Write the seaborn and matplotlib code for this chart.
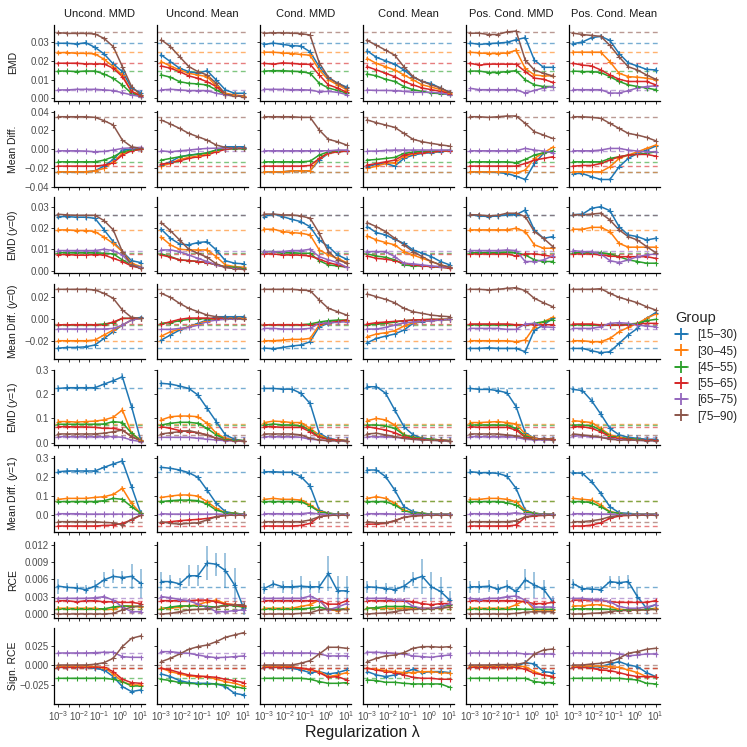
import numpy as np
import pandas as pd
import matplotlib
matplotlib.use("Agg")
import matplotlib.pyplot as plt
import seaborn as sns
from matplotlib.lines import Line2D

sns.set_theme(style="ticks")
plt.rcParams["font.family"] = ["Liberation Sans", "DejaVu Sans"]
plt.rcParams["mathtext.fontset"] = "custom"
plt.rcParams["mathtext.rm"] = "Liberation Sans"
plt.rcParams["mathtext.it"] = "Liberation Sans:italic"

# ---------------- data ----------------
LAMBDAS = [0.001, 0.00278, 0.00774, 0.0215, 0.0599, 0.167, 0.464, 1.29, 3.59, 10.0]
GROUPS = ["[15–30)", "[30–45)", "[45–55)", "[55–65)", "[65–75)", "[75–90)"]
COLORS = ["#1f77b4", "#ff7f0e", "#2ca02c", "#d62728", "#9467bd", "#8c564b"]
METHODS = ["Uncond. MMD", "Uncond. Mean", "Cond. MMD", "Cond. Mean", "Pos. Cond. MMD", "Pos. Cond. Mean"]
ROW_LABELS = ["EMD", "Mean Diff.", "EMD ($y$=0)", "Mean Diff. ($y$=0)",
              "EMD ($y$=1)", "Mean Diff. ($y$=1)", "RCE", "Sign. RCE"]

# --- Row 1: EMD ---
ref_emd = [0.0297, 0.0247, 0.0147, 0.0189, 0.0045, 0.0353]
err_emd = [0.0012, 0.0010, 0.0008, 0.0007, 0.0004, 0.0006]
emd_umm = [[0.0295,0.0295,0.0291,0.0298,0.0273,0.0238,0.0184,0.0143,0.0054,0.0030],
           [0.0245,0.0245,0.0241,0.0241,0.0238,0.0209,0.0170,0.0125,0.0036,0.0018],
           [0.0146,0.0146,0.0143,0.0146,0.0146,0.0130,0.0107,0.0071,0.0027,0.0009],
           [0.0188,0.0188,0.0188,0.0184,0.0184,0.0184,0.0161,0.0116,0.0036,0.0013],
           [0.0045,0.0045,0.0048,0.0048,0.0048,0.0045,0.0041,0.0030,0.0018,0.0009],
           [0.0352,0.0348,0.0348,0.0348,0.0345,0.0321,0.0277,0.0170,0.0063,0.0018]]
emd_umn = [[0.0232,0.0196,0.0161,0.0143,0.0134,0.0148,0.0098,0.0045,0.0027,0.0027],
           [0.0196,0.0173,0.0152,0.0134,0.0125,0.0116,0.0066,0.0027,0.0018,0.0013],
           [0.0125,0.0113,0.0089,0.0080,0.0077,0.0071,0.0045,0.0018,0.0013,0.0009],
           [0.0173,0.0161,0.0143,0.0120,0.0107,0.0089,0.0063,0.0018,0.0013,0.0009],
           [0.0045,0.0048,0.0045,0.0041,0.0041,0.0041,0.0027,0.0018,0.0013,0.0009],
           [0.0313,0.0277,0.0223,0.0170,0.0143,0.0125,0.0080,0.0023,0.0013,0.0009]]
emd_cmm = [[0.0289,0.0296,0.0289,0.0282,0.0280,0.0249,0.0169,0.0108,0.0081,0.0060],
           [0.0247,0.0247,0.0243,0.0240,0.0235,0.0231,0.0152,0.0099,0.0072,0.0046],
           [0.0146,0.0148,0.0148,0.0145,0.0143,0.0134,0.0081,0.0055,0.0042,0.0028],
           [0.0187,0.0183,0.0190,0.0187,0.0183,0.0182,0.0125,0.0072,0.0055,0.0032],
           [0.0048,0.0048,0.0048,0.0046,0.0046,0.0044,0.0035,0.0037,0.0032,0.0020],
           [0.0349,0.0351,0.0351,0.0349,0.0347,0.0339,0.0190,0.0113,0.0080,0.0055]]
emd_cmn = [[0.0254,0.0219,0.0201,0.0183,0.0152,0.0113,0.0090,0.0078,0.0055,0.0032],
           [0.0213,0.0187,0.0169,0.0152,0.0125,0.0099,0.0072,0.0060,0.0046,0.0028],
           [0.0130,0.0120,0.0102,0.0090,0.0063,0.0046,0.0037,0.0028,0.0025,0.0019],
           [0.0169,0.0152,0.0134,0.0116,0.0090,0.0072,0.0055,0.0046,0.0037,0.0025],
           [0.0044,0.0042,0.0042,0.0041,0.0037,0.0032,0.0032,0.0032,0.0028,0.0019],
           [0.0310,0.0284,0.0258,0.0231,0.0169,0.0116,0.0090,0.0072,0.0055,0.0032]]
emd_pmm = [[0.0296,0.0289,0.0293,0.0296,0.0300,0.0314,0.0325,0.0205,0.0166,0.0166],
           [0.0247,0.0243,0.0240,0.0240,0.0243,0.0257,0.0160,0.0125,0.0120,0.0120],
           [0.0146,0.0146,0.0138,0.0138,0.0143,0.0148,0.0099,0.0072,0.0063,0.0063],
           [0.0187,0.0178,0.0183,0.0183,0.0183,0.0183,0.0143,0.0108,0.0102,0.0085],
           [0.0053,0.0046,0.0046,0.0046,0.0046,0.0046,0.0028,0.0042,0.0055,0.0063],
           [0.0349,0.0349,0.0342,0.0342,0.0356,0.0360,0.0205,0.0152,0.0134,0.0120]]
emd_pmn = [[0.0293,0.0302,0.0325,0.0332,0.0310,0.0240,0.0190,0.0173,0.0155,0.0152],
           [0.0247,0.0247,0.0247,0.0247,0.0196,0.0134,0.0116,0.0113,0.0108,0.0099],
           [0.0146,0.0143,0.0143,0.0138,0.0116,0.0090,0.0072,0.0063,0.0055,0.0046],
           [0.0187,0.0178,0.0173,0.0152,0.0125,0.0102,0.0090,0.0090,0.0090,0.0072],
           [0.0046,0.0046,0.0046,0.0046,0.0028,0.0028,0.0041,0.0055,0.0063,0.0067],
           [0.0349,0.0342,0.0337,0.0332,0.0284,0.0222,0.0169,0.0152,0.0125,0.0102]]

# --- Row 2: Mean Diff. ---
ref_md = [-0.0245, -0.0243, -0.0140, -0.0185, -0.0018, 0.0348]
err_md = [0.0012, 0.0010, 0.0008, 0.0007, 0.0004, 0.0006]
md_umm = [[-0.0243,-0.0243,-0.0243,-0.0243,-0.0232,-0.0182,-0.0111,-0.0010,0.0000,0.0007],
          [-0.0243,-0.0243,-0.0243,-0.0243,-0.0232,-0.0207,-0.0136,-0.0046,-0.0010,0.0000],
          [-0.0136,-0.0136,-0.0136,-0.0136,-0.0136,-0.0118,-0.0082,-0.0029,-0.0010,-0.0004],
          [-0.0182,-0.0182,-0.0182,-0.0182,-0.0182,-0.0171,-0.0146,-0.0064,-0.0018,-0.0004],
          [-0.0018,-0.0018,-0.0018,-0.0021,-0.0029,-0.0025,-0.0010,0.0007,0.0014,0.0018],
          [0.0346,0.0346,0.0346,0.0346,0.0339,0.0304,0.0257,0.0096,0.0025,0.0007]]
md_umn = [[-0.0171,-0.0136,-0.0082,-0.0064,-0.0054,-0.0046,-0.0010,0.0025,0.0025,0.0025],
          [-0.0182,-0.0154,-0.0111,-0.0089,-0.0075,-0.0054,-0.0018,0.0007,0.0014,0.0014],
          [-0.0118,-0.0100,-0.0082,-0.0068,-0.0054,-0.0039,-0.0010,0.0000,0.0004,0.0004],
          [-0.0161,-0.0146,-0.0125,-0.0100,-0.0082,-0.0064,-0.0029,-0.0004,0.0007,0.0007],
          [-0.0018,-0.0029,-0.0018,-0.0010,0.0000,0.0007,0.0010,0.0010,0.0010,0.0010],
          [0.0310,0.0268,0.0221,0.0168,0.0132,0.0096,0.0043,0.0018,0.0007,0.0007]]
md_cmm = [[-0.0243,-0.0243,-0.0243,-0.0232,-0.0232,-0.0232,-0.0118,-0.0046,-0.0029,-0.0021],
          [-0.0243,-0.0243,-0.0243,-0.0232,-0.0232,-0.0232,-0.0100,-0.0046,-0.0029,-0.0021],
          [-0.0136,-0.0136,-0.0136,-0.0136,-0.0136,-0.0129,-0.0064,-0.0029,-0.0021,-0.0018],
          [-0.0182,-0.0182,-0.0182,-0.0182,-0.0182,-0.0175,-0.0100,-0.0039,-0.0029,-0.0021],
          [-0.0018,-0.0018,-0.0018,-0.0018,-0.0018,-0.0018,-0.0018,-0.0018,-0.0010,-0.0010],
          [0.0346,0.0346,0.0346,0.0346,0.0339,0.0339,0.0204,0.0104,0.0079,0.0043]]
md_cmn = [[-0.0189,-0.0161,-0.0154,-0.0182,-0.0100,-0.0064,-0.0046,-0.0039,-0.0029,-0.0018],
          [-0.0207,-0.0182,-0.0154,-0.0146,-0.0082,-0.0054,-0.0039,-0.0032,-0.0025,-0.0018],
          [-0.0118,-0.0111,-0.0100,-0.0089,-0.0046,-0.0032,-0.0025,-0.0021,-0.0018,-0.0014],
          [-0.0171,-0.0154,-0.0136,-0.0118,-0.0064,-0.0046,-0.0039,-0.0029,-0.0021,-0.0018],
          [-0.0021,-0.0021,-0.0014,-0.0010,-0.0010,-0.0010,-0.0010,-0.0010,-0.0010,-0.0010],
          [0.0311,0.0282,0.0257,0.0232,0.0168,0.0104,0.0079,0.0061,0.0046,0.0032]]
md_pmm = [[-0.0243,-0.0243,-0.0243,-0.0250,-0.0261,-0.0289,-0.0325,-0.0154,-0.0046,-0.0021],
          [-0.0243,-0.0243,-0.0243,-0.0243,-0.0243,-0.0254,-0.0225,-0.0100,-0.0039,0.0018],
          [-0.0136,-0.0136,-0.0136,-0.0136,-0.0136,-0.0146,-0.0111,-0.0064,-0.0039,-0.0021],
          [-0.0182,-0.0182,-0.0182,-0.0182,-0.0182,-0.0182,-0.0154,-0.0118,-0.0100,-0.0082],
          [-0.0018,-0.0018,-0.0018,-0.0018,-0.0018,-0.0018,0.0007,-0.0010,-0.0021,-0.0039],
          [0.0346,0.0346,0.0339,0.0346,0.0354,0.0354,0.0275,0.0186,0.0150,0.0114]]
md_pmn = [[-0.0261,-0.0261,-0.0296,-0.0325,-0.0325,-0.0189,-0.0100,-0.0046,-0.0010,0.0032],
          [-0.0243,-0.0243,-0.0243,-0.0243,-0.0189,-0.0100,-0.0064,-0.0029,0.0007,0.0043],
          [-0.0136,-0.0136,-0.0136,-0.0136,-0.0100,-0.0082,-0.0064,-0.0054,-0.0046,-0.0029],
          [-0.0182,-0.0175,-0.0175,-0.0154,-0.0118,-0.0082,-0.0064,-0.0057,-0.0057,-0.0075],
          [-0.0018,-0.0018,-0.0018,-0.0010,0.0007,0.0007,-0.0010,-0.0021,-0.0029,-0.0029],
          [0.0346,0.0346,0.0339,0.0329,0.0275,0.0221,0.0168,0.0150,0.0125,0.0089]]

# --- Row 3: EMD (y=0) ---
ref_emd0 = [0.0263, 0.0193, 0.0082, 0.0078, 0.0095, 0.0265]
err_emd0 = [0.0013, 0.0010, 0.0006, 0.0006, 0.0006, 0.0008]
emd0_umm = [[0.0256,0.0256,0.0253,0.0253,0.0248,0.0193,0.0137,0.0090,0.0047,0.0038],
            [0.0193,0.0193,0.0190,0.0190,0.0185,0.0158,0.0129,0.0090,0.0035,0.0019],
            [0.0085,0.0085,0.0085,0.0085,0.0085,0.0082,0.0079,0.0051,0.0027,0.0016],
            [0.0076,0.0076,0.0073,0.0073,0.0076,0.0074,0.0058,0.0043,0.0022,0.0011],
            [0.0095,0.0095,0.0095,0.0095,0.0095,0.0101,0.0095,0.0074,0.0027,0.0016],
            [0.0267,0.0264,0.0262,0.0262,0.0262,0.0237,0.0193,0.0090,0.0027,0.0011]]
emd0_umn = [[0.0196,0.0153,0.0126,0.0122,0.0133,0.0137,0.0098,0.0047,0.0035,0.0032],
            [0.0158,0.0122,0.0101,0.0098,0.0098,0.0098,0.0066,0.0027,0.0019,0.0016],
            [0.0079,0.0066,0.0051,0.0047,0.0043,0.0038,0.0027,0.0019,0.0016,0.0013],
            [0.0074,0.0063,0.0051,0.0047,0.0043,0.0038,0.0027,0.0016,0.0011,0.0009],
            [0.0098,0.0098,0.0090,0.0074,0.0058,0.0043,0.0027,0.0016,0.0011,0.0009],
            [0.0227,0.0189,0.0145,0.0101,0.0082,0.0063,0.0032,0.0016,0.0009,0.0006]]
emd0_cmm = [[0.0256,0.0268,0.0256,0.0243,0.0232,0.0208,0.0145,0.0114,0.0074,0.0054],
            [0.0196,0.0196,0.0185,0.0180,0.0177,0.0169,0.0098,0.0074,0.0058,0.0038],
            [0.0090,0.0090,0.0085,0.0085,0.0082,0.0082,0.0047,0.0027,0.0022,0.0016],
            [0.0079,0.0079,0.0074,0.0074,0.0073,0.0069,0.0054,0.0038,0.0027,0.0016],
            [0.0090,0.0090,0.0090,0.0095,0.0095,0.0101,0.0066,0.0051,0.0038,0.0016],
            [0.0268,0.0268,0.0264,0.0264,0.0259,0.0248,0.0177,0.0090,0.0051,0.0035]]
emd0_cmn = [[0.0208,0.0180,0.0169,0.0148,0.0129,0.0098,0.0082,0.0066,0.0043,0.0027],
            [0.0164,0.0145,0.0133,0.0122,0.0090,0.0074,0.0058,0.0043,0.0027,0.0016],
            [0.0079,0.0069,0.0063,0.0051,0.0027,0.0022,0.0022,0.0019,0.0016,0.0013],
            [0.0069,0.0058,0.0054,0.0047,0.0035,0.0027,0.0022,0.0019,0.0016,0.0011],
            [0.0090,0.0090,0.0090,0.0066,0.0035,0.0032,0.0027,0.0022,0.0019,0.0016],
            [0.0227,0.0208,0.0185,0.0153,0.0122,0.0090,0.0066,0.0043,0.0027,0.0016]]
emd0_pmm = [[0.0265,0.0259,0.0256,0.0259,0.0265,0.0265,0.0287,0.0193,0.0153,0.0161],
            [0.0193,0.0193,0.0193,0.0193,0.0193,0.0201,0.0185,0.0122,0.0106,0.0106],
            [0.0085,0.0085,0.0085,0.0085,0.0088,0.0085,0.0074,0.0051,0.0043,0.0043],
            [0.0079,0.0079,0.0079,0.0079,0.0079,0.0069,0.0079,0.0079,0.0074,0.0066],
            [0.0095,0.0095,0.0095,0.0095,0.0098,0.0095,0.0043,0.0043,0.0051,0.0069],
            [0.0265,0.0264,0.0259,0.0262,0.0272,0.0272,0.0256,0.0185,0.0153,0.0114]]
emd0_pmn = [[0.0265,0.0268,0.0295,0.0303,0.0284,0.0208,0.0169,0.0161,0.0145,0.0153],
            [0.0196,0.0196,0.0205,0.0205,0.0185,0.0129,0.0111,0.0111,0.0111,0.0111],
            [0.0085,0.0085,0.0085,0.0085,0.0079,0.0066,0.0051,0.0043,0.0035,0.0035],
            [0.0079,0.0079,0.0079,0.0074,0.0069,0.0066,0.0066,0.0066,0.0066,0.0058],
            [0.0095,0.0090,0.0090,0.0079,0.0047,0.0038,0.0051,0.0066,0.0074,0.0079],
            [0.0265,0.0265,0.0268,0.0272,0.0240,0.0193,0.0161,0.0145,0.0114,0.0085]]

# --- Row 4: Mean Diff. (y=0) ---
ref_md0 = [-0.0267, -0.0198, -0.0055, -0.0050, -0.0094, 0.0267]
err_md0 = [0.0013, 0.0010, 0.0006, 0.0006, 0.0006, 0.0008]
md0_umm = [[-0.0267,-0.0261,-0.0261,-0.0255,-0.0239,-0.0179,-0.0118,-0.0058,-0.0012,0.0012],
           [-0.0200,-0.0200,-0.0200,-0.0200,-0.0194,-0.0148,-0.0103,-0.0058,-0.0012,0.0003],
           [-0.0055,-0.0055,-0.0055,-0.0055,-0.0055,-0.0048,-0.0036,0.0003,0.0003,0.0003],
           [-0.0055,-0.0055,-0.0055,-0.0055,-0.0055,-0.0055,-0.0030,0.0003,0.0003,0.0003],
           [-0.0094,-0.0094,-0.0094,-0.0094,-0.0094,-0.0094,-0.0088,-0.0058,-0.0012,0.0003],
           [0.0267,0.0267,0.0267,0.0267,0.0261,0.0230,0.0185,0.0079,0.0012,0.0003]]
md0_umn = [[-0.0194,-0.0148,-0.0103,-0.0073,-0.0042,-0.0012,0.0018,0.0018,0.0018,0.0018],
           [-0.0158,-0.0118,-0.0097,-0.0073,-0.0048,-0.0018,0.0000,0.0003,0.0006,0.0006],
           [-0.0042,-0.0036,-0.0018,-0.0006,0.0000,0.0000,0.0000,0.0000,0.0000,0.0000],
           [-0.0048,-0.0027,-0.0006,0.0006,0.0006,0.0006,0.0000,0.0000,0.0000,0.0000],
           [-0.0097,-0.0097,-0.0088,-0.0079,-0.0058,-0.0027,-0.0012,-0.0006,-0.0003,0.0000],
           [0.0230,0.0194,0.0139,0.0094,0.0064,0.0033,0.0018,0.0006,0.0003,0.0000]]
md0_cmm = [[-0.0267,-0.0273,-0.0261,-0.0248,-0.0239,-0.0209,-0.0073,-0.0042,-0.0027,-0.0018],
           [-0.0200,-0.0200,-0.0194,-0.0188,-0.0188,-0.0179,-0.0058,-0.0036,-0.0027,-0.0018],
           [-0.0055,-0.0055,-0.0055,-0.0055,-0.0055,-0.0048,-0.0030,-0.0018,-0.0012,-0.0012],
           [-0.0055,-0.0055,-0.0055,-0.0055,-0.0055,-0.0055,-0.0048,-0.0036,-0.0024,-0.0012],
           [-0.0088,-0.0088,-0.0094,-0.0094,-0.0094,-0.0088,-0.0042,-0.0036,-0.0033,-0.0027],
           [0.0267,0.0267,0.0267,0.0267,0.0261,0.0255,0.0170,0.0094,0.0064,0.0033]]
md0_cmn = [[-0.0218,-0.0179,-0.0158,-0.0139,-0.0103,-0.0042,-0.0027,-0.0018,-0.0012,-0.0006],
           [-0.0164,-0.0139,-0.0127,-0.0109,-0.0067,-0.0036,-0.0024,-0.0018,-0.0012,-0.0006],
           [-0.0055,-0.0048,-0.0042,-0.0030,-0.0018,-0.0012,-0.0009,-0.0006,-0.0006,-0.0006],
           [-0.0048,-0.0036,-0.0030,-0.0024,-0.0018,-0.0012,-0.0009,-0.0006,-0.0006,-0.0006],
           [-0.0094,-0.0094,-0.0079,-0.0058,-0.0036,-0.0030,-0.0024,-0.0018,-0.0012,-0.0006],
           [0.0224,0.0200,0.0176,0.0145,0.0094,0.0064,0.0048,0.0033,0.0024,0.0018]]
md0_pmm = [[-0.0270,-0.0270,-0.0264,-0.0270,-0.0270,-0.0270,-0.0300,-0.0103,-0.0058,0.0003],
           [-0.0200,-0.0200,-0.0200,-0.0200,-0.0200,-0.0209,-0.0194,-0.0073,-0.0027,0.0012],
           [-0.0055,-0.0055,-0.0055,-0.0055,-0.0055,-0.0058,-0.0058,-0.0042,-0.0027,-0.0012],
           [-0.0048,-0.0048,-0.0048,-0.0048,-0.0048,-0.0055,-0.0055,-0.0055,-0.0055,-0.0055],
           [-0.0088,-0.0088,-0.0088,-0.0088,-0.0097,-0.0097,-0.0048,-0.0042,-0.0073,-0.0079],
           [0.0267,0.0267,0.0261,0.0267,0.0276,0.0282,0.0255,0.0185,0.0145,0.0109]]
md0_pmn = [[-0.0270,-0.0270,-0.0291,-0.0309,-0.0300,-0.0224,-0.0148,-0.0088,0.0003,0.0055],
           [-0.0200,-0.0200,-0.0209,-0.0209,-0.0179,-0.0118,-0.0079,-0.0042,0.0003,0.0042],
           [-0.0055,-0.0055,-0.0058,-0.0058,-0.0058,-0.0058,-0.0048,-0.0042,-0.0018,-0.0006],
           [-0.0048,-0.0048,-0.0048,-0.0058,-0.0058,-0.0058,-0.0058,-0.0048,-0.0042,-0.0042],
           [-0.0088,-0.0088,-0.0088,-0.0073,-0.0042,-0.0036,-0.0042,-0.0058,-0.0067,-0.0073],
           [0.0267,0.0267,0.0267,0.0273,0.0230,0.0194,0.0170,0.0145,0.0109,0.0079]]

# --- Row 5: EMD (y=1) ---
ref_emd1 = [0.225, 0.075, 0.072, 0.063, 0.022, 0.032]
err_emd1 = [0.014, 0.010, 0.006, 0.004, 0.003, 0.004]
emd1_umm = [[0.224,0.227,0.227,0.227,0.227,0.242,0.256,0.272,0.149,0.011],
            [0.087,0.087,0.085,0.087,0.089,0.094,0.105,0.135,0.039,0.011],
            [0.076,0.076,0.076,0.076,0.076,0.077,0.087,0.083,0.039,0.008],
            [0.066,0.066,0.065,0.065,0.063,0.059,0.059,0.052,0.025,0.008],
            [0.025,0.025,0.025,0.025,0.025,0.025,0.025,0.022,0.011,0.004],
            [0.036,0.036,0.036,0.036,0.036,0.039,0.045,0.052,0.025,0.008]]
emd1_umn = [[0.245,0.242,0.234,0.224,0.197,0.142,0.087,0.032,0.014,0.008],
            [0.094,0.107,0.110,0.110,0.107,0.080,0.039,0.018,0.011,0.008],
            [0.073,0.080,0.084,0.084,0.080,0.059,0.032,0.014,0.011,0.008],
            [0.066,0.059,0.050,0.045,0.041,0.032,0.018,0.011,0.008,0.007],
            [0.022,0.022,0.022,0.022,0.018,0.014,0.011,0.008,0.008,0.007],
            [0.036,0.041,0.045,0.050,0.041,0.032,0.018,0.011,0.008,0.007]]
emd1_cmm = [[0.224,0.224,0.221,0.221,0.204,0.162,0.039,0.018,0.011,0.008],
            [0.083,0.089,0.087,0.083,0.083,0.059,0.032,0.014,0.011,0.008],
            [0.073,0.077,0.073,0.073,0.069,0.052,0.025,0.014,0.011,0.008],
            [0.066,0.066,0.063,0.063,0.063,0.045,0.022,0.014,0.011,0.008],
            [0.025,0.025,0.025,0.025,0.022,0.014,0.011,0.008,0.008,0.007],
            [0.036,0.036,0.036,0.036,0.032,0.018,0.011,0.008,0.008,0.007]]
emd1_cmn = [[0.231,0.231,0.204,0.135,0.066,0.032,0.018,0.014,0.011,0.008],
            [0.091,0.100,0.094,0.073,0.032,0.022,0.017,0.014,0.011,0.008],
            [0.073,0.073,0.069,0.059,0.032,0.022,0.017,0.014,0.011,0.008],
            [0.066,0.059,0.052,0.041,0.025,0.018,0.014,0.011,0.010,0.008],
            [0.025,0.025,0.025,0.022,0.018,0.014,0.011,0.010,0.008,0.007],
            [0.036,0.039,0.032,0.025,0.018,0.014,0.011,0.010,0.008,0.007]]
emd1_pmm = [[0.224,0.220,0.220,0.215,0.206,0.149,0.041,0.018,0.014,0.014],
            [0.083,0.083,0.085,0.087,0.083,0.077,0.036,0.018,0.014,0.014],
            [0.073,0.073,0.073,0.073,0.072,0.059,0.028,0.017,0.014,0.014],
            [0.066,0.063,0.063,0.063,0.063,0.052,0.022,0.017,0.014,0.014],
            [0.025,0.025,0.025,0.025,0.025,0.022,0.014,0.011,0.011,0.011],
            [0.036,0.036,0.036,0.036,0.032,0.028,0.018,0.014,0.014,0.011]]
emd1_pmn = [[0.220,0.215,0.173,0.118,0.059,0.032,0.022,0.018,0.014,0.014],
            [0.091,0.087,0.083,0.059,0.032,0.022,0.017,0.014,0.011,0.011],
            [0.073,0.073,0.069,0.052,0.028,0.021,0.017,0.014,0.011,0.011],
            [0.066,0.066,0.059,0.045,0.025,0.018,0.014,0.011,0.011,0.011],
            [0.028,0.028,0.025,0.022,0.017,0.014,0.011,0.010,0.008,0.008],
            [0.036,0.032,0.028,0.022,0.014,0.011,0.011,0.010,0.008,0.008]]

# --- Row 6: Mean Diff. (y=1) ---
ref_md1 = [0.228, 0.075, 0.072, -0.060, 0.007, -0.035]
err_md1 = [0.014, 0.010, 0.006, 0.004, 0.003, 0.004]
md1_umm = [[0.229,0.233,0.233,0.233,0.233,0.252,0.270,0.286,0.150,0.012],
           [0.083,0.088,0.088,0.088,0.093,0.097,0.109,0.141,0.062,0.009],
           [0.071,0.071,0.071,0.071,0.071,0.076,0.088,0.083,0.044,0.009],
           [-0.058,-0.058,-0.058,-0.058,-0.058,-0.055,-0.053,-0.044,-0.026,-0.002],
           [0.007,0.007,0.007,0.005,0.005,0.005,0.005,0.005,0.005,0.004],
           [-0.035,-0.035,-0.035,-0.035,-0.035,-0.039,-0.041,-0.053,-0.023,0.000]]
md1_umn = [[0.252,0.247,0.238,0.224,0.199,0.132,0.062,0.018,0.009,0.005],
           [0.093,0.100,0.106,0.106,0.100,0.071,0.035,0.012,0.009,0.005],
           [0.071,0.076,0.079,0.079,0.076,0.058,0.026,0.012,0.009,0.005],
           [-0.041,-0.035,-0.030,-0.026,-0.023,-0.018,-0.009,-0.002,0.000,0.000],
           [0.007,0.005,0.005,0.005,0.005,0.005,0.005,0.004,0.004,0.004],
           [-0.035,-0.044,-0.048,-0.044,-0.041,-0.026,-0.009,-0.002,0.000,0.000]]
md1_cmm = [[0.229,0.229,0.226,0.226,0.203,0.153,0.026,0.009,0.005,0.004],
           [0.083,0.088,0.083,0.083,0.079,0.053,0.023,0.009,0.005,0.004],
           [0.071,0.071,0.071,0.071,0.071,0.048,0.018,0.009,0.005,0.004],
           [-0.058,-0.058,-0.058,-0.058,-0.055,-0.044,-0.009,-0.002,0.000,0.000],
           [0.007,0.007,0.007,0.007,0.007,0.012,0.005,0.005,0.004,0.004],
           [-0.035,-0.035,-0.035,-0.035,-0.035,-0.026,-0.009,-0.002,0.000,0.000]]
md1_cmn = [[0.238,0.238,0.203,0.132,0.044,0.018,0.009,0.005,0.004,0.004],
           [0.088,0.097,0.088,0.062,0.026,0.012,0.009,0.005,0.004,0.004],
           [0.071,0.071,0.071,0.053,0.023,0.012,0.009,0.005,0.004,0.004],
           [-0.048,-0.048,-0.044,-0.030,-0.012,-0.005,-0.002,0.000,0.000,0.000],
           [0.007,0.007,0.007,0.005,0.005,0.005,0.004,0.004,0.004,0.004],
           [-0.035,-0.041,-0.041,-0.030,-0.012,-0.005,-0.002,0.000,0.000,0.000]]
md1_pmm = [[0.229,0.224,0.224,0.220,0.206,0.141,0.026,0.009,0.005,0.004],
           [0.083,0.083,0.088,0.088,0.083,0.071,0.023,0.009,0.005,0.004],
           [0.071,0.071,0.071,0.071,0.065,0.053,0.018,0.009,0.005,0.004],
           [-0.058,-0.058,-0.058,-0.058,-0.058,-0.053,-0.012,-0.005,-0.002,0.000],
           [0.007,0.007,0.007,0.007,0.007,0.012,0.005,0.005,0.004,0.004],
           [-0.035,-0.035,-0.035,-0.035,-0.035,-0.030,-0.009,-0.002,0.000,0.000]]
md1_pmn = [[0.224,0.220,0.176,0.115,0.044,0.012,0.009,0.005,0.004,0.004],
           [0.088,0.083,0.079,0.053,0.018,0.009,0.005,0.004,0.004,0.004],
           [0.071,0.071,0.065,0.044,0.016,0.009,0.005,0.004,0.004,0.004],
           [-0.058,-0.058,-0.053,-0.041,-0.018,-0.005,-0.002,0.000,0.000,0.000],
           [0.007,0.007,0.007,0.005,0.005,0.005,0.004,0.004,0.004,0.004],
           [-0.035,-0.035,-0.030,-0.023,-0.009,-0.002,0.000,0.000,0.000,0.000]]

# --- Row 7: RCE ---
ref_rce = [0.0046, 0.0009, 0.0008, 0.0022, 0.0027, 0.0001]
err_rce = [0.0012, 0.0003, 0.0002, 0.0003, 0.0003, 0.0002]
rce_umm = [[0.0048,0.0046,0.0045,0.0042,0.0048,0.0059,0.0065,0.0063,0.0065,0.0053],
           [0.0010,0.0010,0.0010,0.0010,0.0010,0.0008,0.0008,0.0014,0.0014,0.0012],
           [0.0009,0.0009,0.0009,0.0009,0.0009,0.0009,0.0012,0.0014,0.0013,0.0013],
           [0.0023,0.0023,0.0021,0.0023,0.0023,0.0021,0.0021,0.0020,0.0020,0.0018],
           [0.0027,0.0027,0.0027,0.0027,0.0028,0.0030,0.0024,0.0012,0.0004,0.0004],
           [0.0000,0.0000,0.0000,0.0000,0.0000,0.0000,0.0001,0.0007,0.0012,0.0014]]
rce_umn = [[0.0056,0.0056,0.0052,0.0066,0.0066,0.0088,0.0086,0.0075,0.0050,0.0010],
           [0.0010,0.0010,0.0012,0.0014,0.0016,0.0021,0.0024,0.0018,0.0016,0.0013],
           [0.0009,0.0012,0.0014,0.0014,0.0014,0.0013,0.0012,0.0016,0.0014,0.0012],
           [0.0023,0.0023,0.0023,0.0023,0.0024,0.0024,0.0021,0.0017,0.0016,0.0013],
           [0.0030,0.0028,0.0025,0.0023,0.0017,0.0012,0.0004,0.0004,0.0006,0.0007],
           [0.0000,0.0001,0.0004,0.0007,0.0008,0.0009,0.0012,0.0014,0.0016,0.0016]]
rce_cmm = [[0.0044,0.0052,0.0047,0.0047,0.0048,0.0047,0.0047,0.0070,0.0040,0.0040],
           [0.0010,0.0010,0.0010,0.0010,0.0013,0.0016,0.0024,0.0007,0.0006,0.0010],
           [0.0009,0.0009,0.0009,0.0009,0.0009,0.0010,0.0012,0.0008,0.0008,0.0009],
           [0.0023,0.0023,0.0023,0.0023,0.0023,0.0023,0.0023,0.0017,0.0017,0.0023],
           [0.0027,0.0027,0.0027,0.0027,0.0027,0.0031,0.0024,0.0007,0.0012,0.0018],
           [0.0000,0.0000,0.0000,0.0000,0.0001,0.0002,0.0007,0.0008,0.0007,0.0008]]
rce_cmn = [[0.0047,0.0046,0.0044,0.0042,0.0048,0.0060,0.0065,0.0047,0.0039,0.0024],
           [0.0010,0.0010,0.0010,0.0010,0.0010,0.0010,0.0010,0.0010,0.0010,0.0012],
           [0.0010,0.0011,0.0013,0.0013,0.0013,0.0012,0.0009,0.0009,0.0012,0.0016],
           [0.0023,0.0023,0.0023,0.0023,0.0023,0.0021,0.0018,0.0016,0.0018,0.0018],
           [0.0027,0.0027,0.0027,0.0024,0.0024,0.0013,0.0010,0.0010,0.0012,0.0018],
           [0.0000,0.0001,0.0002,0.0004,0.0007,0.0008,0.0009,0.0009,0.0010,0.0012]]
rce_pmm = [[0.0047,0.0047,0.0048,0.0043,0.0048,0.0039,0.0059,0.0050,0.0043,0.0021],
           [0.0010,0.0010,0.0010,0.0010,0.0010,0.0016,0.0024,0.0007,0.0007,0.0007],
           [0.0009,0.0009,0.0009,0.0009,0.0009,0.0009,0.0008,0.0008,0.0008,0.0008],
           [0.0023,0.0023,0.0023,0.0023,0.0023,0.0023,0.0021,0.0018,0.0018,0.0020],
           [0.0027,0.0025,0.0027,0.0027,0.0030,0.0031,0.0024,0.0012,0.0012,0.0012],
           [0.0000,0.0000,0.0000,0.0000,0.0000,0.0001,0.0003,0.0004,0.0004,0.0004]]
rce_pmn = [[0.0052,0.0044,0.0043,0.0042,0.0056,0.0054,0.0056,0.0030,0.0010,0.0016],
           [0.0014,0.0014,0.0016,0.0016,0.0013,0.0008,0.0007,0.0007,0.0008,0.0010],
           [0.0009,0.0009,0.0009,0.0009,0.0008,0.0007,0.0007,0.0007,0.0008,0.0009],
           [0.0024,0.0024,0.0024,0.0024,0.0021,0.0020,0.0020,0.0020,0.0020,0.0023],
           [0.0027,0.0027,0.0025,0.0025,0.0021,0.0013,0.0010,0.0010,0.0012,0.0016],
           [0.0000,0.0000,0.0001,0.0002,0.0004,0.0006,0.0006,0.0007,0.0007,0.0008]]
# larger blue error bars in the RCE row, one list per method
rce_blue_err_umm = [0.0013,0.0008,0.0008,0.0008,0.0010,0.0013,0.0012,0.0012,0.0022,0.0025]
rce_blue_err_umn = [0.0017,0.0012,0.0010,0.0018,0.0018,0.0030,0.0020,0.0030,0.0030,0.0012]
rce_blue_err_cmm = [0.0010,0.0006,0.0010,0.0012,0.0018,0.0010,0.0010,0.0030,0.0025,0.0025]
rce_blue_err_cmn = [0.0010,0.0012,0.0010,0.0008,0.0010,0.0012,0.0030,0.0025,0.0025,0.0015]
rce_blue_err_pmm = [0.0010,0.0010,0.0010,0.0008,0.0010,0.0008,0.0018,0.0022,0.0015,0.0010]
rce_blue_err_pmn = [0.0008,0.0006,0.0006,0.0006,0.0010,0.0012,0.0012,0.0015,0.0012,0.0008]

# --- Row 8: Sign. RCE ---
ref_srce = [-0.0030, -0.0029, -0.0165, -0.0031, 0.0155, 0.0003]
err_srce = [0.0030, 0.0015, 0.0010, 0.0010, 0.0010, 0.0010]
srce_umm = [[-0.0026,-0.0026,-0.0026,-0.0026,-0.0038,-0.0060,-0.0145,-0.0273,-0.0337,-0.0316],
            [-0.0009,-0.0009,-0.0009,-0.0009,-0.0017,-0.0030,-0.0111,-0.0209,-0.0252,-0.0252],
            [-0.0167,-0.0167,-0.0167,-0.0167,-0.0167,-0.0167,-0.0179,-0.0209,-0.0265,-0.0265],
            [-0.0026,-0.0026,-0.0026,-0.0026,-0.0026,-0.0026,-0.0081,-0.0179,-0.0222,-0.0231],
            [0.0158,0.0158,0.0158,0.0158,0.0162,0.0167,0.0167,0.0111,0.0102,0.0102],
            [0.0004,0.0004,0.0004,0.0004,0.0013,0.0034,0.0090,0.0240,0.0346,0.0376]]
srce_umn = [[-0.0111,-0.0145,-0.0196,-0.0222,-0.0231,-0.0231,-0.0239,-0.0273,-0.0359,-0.0380],
            [-0.0038,-0.0081,-0.0111,-0.0137,-0.0145,-0.0145,-0.0179,-0.0209,-0.0231,-0.0265],
            [-0.0179,-0.0196,-0.0222,-0.0231,-0.0239,-0.0239,-0.0239,-0.0252,-0.0273,-0.0295],
            [-0.0038,-0.0060,-0.0094,-0.0124,-0.0137,-0.0145,-0.0154,-0.0179,-0.0196,-0.0222],
            [0.0175,0.0175,0.0162,0.0154,0.0132,0.0111,0.0098,0.0102,0.0111,0.0120],
            [0.0047,0.0090,0.0145,0.0205,0.0239,0.0260,0.0303,0.0359,0.0389,0.0418]]
srce_cmm = [[-0.0026,-0.0026,-0.0026,-0.0038,-0.0060,-0.0094,-0.0081,-0.0111,-0.0094,-0.0060],
            [-0.0009,-0.0009,-0.0009,-0.0017,-0.0038,-0.0060,-0.0081,-0.0145,-0.0124,-0.0094],
            [-0.0167,-0.0167,-0.0167,-0.0167,-0.0167,-0.0179,-0.0209,-0.0231,-0.0231,-0.0222],
            [-0.0026,-0.0026,-0.0026,-0.0026,-0.0038,-0.0051,-0.0094,-0.0154,-0.0145,-0.0188],
            [0.0158,0.0158,0.0158,0.0158,0.0158,0.0158,0.0145,0.0120,0.0120,0.0120],
            [0.0004,0.0004,0.0004,0.0004,0.0026,0.0060,0.0145,0.0231,0.0231,0.0218]]
srce_cmn = [[-0.0081,-0.0124,-0.0145,-0.0124,-0.0094,-0.0051,-0.0094,-0.0081,-0.0081,-0.0094],
            [-0.0038,-0.0051,-0.0068,-0.0081,-0.0094,-0.0094,-0.0081,-0.0081,-0.0094,-0.0102],
            [-0.0188,-0.0196,-0.0218,-0.0218,-0.0231,-0.0239,-0.0239,-0.0239,-0.0239,-0.0282],
            [-0.0038,-0.0060,-0.0081,-0.0094,-0.0124,-0.0154,-0.0167,-0.0167,-0.0179,-0.0179],
            [0.0167,0.0167,0.0162,0.0154,0.0145,0.0120,0.0111,0.0102,0.0120,0.0132],
            [0.0047,0.0090,0.0120,0.0132,0.0162,0.0218,0.0239,0.0239,0.0231,0.0239]]
srce_pmm = [[-0.0017,-0.0017,-0.0017,-0.0017,-0.0017,-0.0017,0.0034,0.0017,-0.0081,-0.0094],
            [-0.0009,-0.0009,-0.0009,-0.0009,-0.0009,-0.0009,-0.0017,-0.0081,-0.0124,-0.0145],
            [-0.0167,-0.0167,-0.0167,-0.0167,-0.0167,-0.0167,-0.0167,-0.0209,-0.0222,-0.0222],
            [-0.0026,-0.0026,-0.0026,-0.0026,-0.0026,-0.0026,-0.0051,-0.0103,-0.0124,-0.0145],
            [0.0158,0.0158,0.0158,0.0158,0.0158,0.0158,0.0145,0.0145,0.0145,0.0145],
            [0.0004,0.0004,0.0004,0.0009,0.0009,0.0009,0.0034,0.0145,0.0196,0.0209]]
srce_pmn = [[-0.0017,-0.0017,-0.0017,-0.0017,0.0017,0.0047,0.0004,-0.0017,-0.0094,-0.0145],
            [-0.0009,-0.0009,-0.0009,-0.0009,-0.0017,-0.0026,-0.0060,-0.0094,-0.0145,-0.0145],
            [-0.0167,-0.0167,-0.0167,-0.0167,-0.0167,-0.0167,-0.0179,-0.0188,-0.0231,-0.0239],
            [-0.0026,-0.0026,-0.0038,-0.0060,-0.0068,-0.0094,-0.0124,-0.0145,-0.0145,-0.0145],
            [0.0158,0.0158,0.0158,0.0158,0.0158,0.0145,0.0120,0.0132,0.0145,0.0145],
            [0.0004,0.0004,0.0017,0.0026,0.0047,0.0090,0.0154,0.0175,0.0205,0.0218]]

# ---------------- row configuration (axes) ----------------
ROWS = [
    (ROW_LABELS[0], [emd_umm, emd_umn, emd_cmm, emd_cmn, emd_pmm, emd_pmn], ref_emd, err_emd,
     (-0.0012, 0.0393), [0, 0.01, 0.02, 0.03], ["0.00", "0.01", "0.02", "0.03"]),
    (ROW_LABELS[1], [md_umm, md_umn, md_cmm, md_cmn, md_pmm, md_pmn], ref_md, err_md,
     (-0.0402, 0.0405), [-0.04, -0.02, 0, 0.02, 0.04], ["−0.04", "−0.02", "0.00", "0.02", "0.04"]),
    (ROW_LABELS[2], [emd0_umm, emd0_umn, emd0_cmm, emd0_cmn, emd0_pmm, emd0_pmn], ref_emd0, err_emd0,
     (-0.0011, 0.0347), [0, 0.01, 0.02, 0.03], ["0.00", "0.01", "0.02", "0.03"]),
    (ROW_LABELS[3], [md0_umm, md0_umn, md0_cmm, md0_cmn, md0_pmm, md0_pmn], ref_md0, err_md0,
     (-0.0367, 0.0319), [-0.02, 0, 0.02], ["−0.02", "0.00", "0.02"]),
    (ROW_LABELS[4], [emd1_umm, emd1_umn, emd1_cmm, emd1_cmn, emd1_pmm, emd1_pmn], ref_emd1, err_emd1,
     (-0.011, 0.301), [0, 0.1, 0.2, 0.3], ["0.0", "0.1", "0.2", "0.3"]),
    (ROW_LABELS[5], [md1_umm, md1_umn, md1_cmm, md1_cmn, md1_pmm, md1_pmn], ref_md1, err_md1,
     (-0.087, 0.312), [0, 0.1, 0.2, 0.3], ["0.0", "0.1", "0.2", "0.3"]),
    (ROW_LABELS[6], [rce_umm, rce_umn, rce_cmm, rce_cmn, rce_pmm, rce_pmn], ref_rce, err_rce,
     (-0.00064, 0.0124), [0, 0.003, 0.006, 0.009, 0.012], ["0.000", "0.003", "0.006", "0.009", "0.012"]),
    (ROW_LABELS[7], [srce_umm, srce_umn, srce_cmm, srce_cmn, srce_pmm, srce_pmn], ref_srce, err_srce,
     (-0.0495, 0.0473), [-0.025, 0, 0.025], ["−0.025", "0.000", "0.025"]),
]
RCE_BLUE_ERR = [rce_blue_err_umm, rce_blue_err_umn, rce_blue_err_cmm,
                rce_blue_err_cmn, rce_blue_err_pmm, rce_blue_err_pmn]

# ---------------- figure ----------------
W = H = 747.0
fig = plt.figure(figsize=(7.47, 7.47), dpi=100)
fig.patch.set_facecolor("white")

PX_LEFT0, PX_PITCH_X, PX_W = 54.2, 103.0, 90.6
PX_TOP0, PX_PITCH_Y, PX_H = 25.0, 86.2, 75.5
XTICKS = [10 ** (k / 2) for k in range(-6, 3)]
XTICKLABELS = ["$10^{%d}$" % (k // 2) if k % 2 == 0 else "" for k in range(-6, 3)]
TXT = "#1a1a1a"
TICK_TXT = "#4d4d4d"

for j, (rlabel, panels, ref, err, ylim, yticks, ytl) in enumerate(ROWS):
    top = PX_TOP0 + j * PX_PITCH_Y
    for i, vals in enumerate(panels):
        left = PX_LEFT0 + i * PX_PITCH_X
        ax = fig.add_axes([left / W, 1 - (top + PX_H) / H, PX_W / W, PX_H / H])
        ax.set_xscale("log")
        ax.set_facecolor("white")

        # dashed reference lines
        for r, c in zip(ref, COLORS):
            ax.axhline(r, color=c, lw=1.0, ls=(0, (3.5, 2.5)), alpha=0.6, zorder=1)

        # error bars
        for k, (v, c) in enumerate(zip(vals, COLORS)):
            e = RCE_BLUE_ERR[i] if (j == 6 and k == 0) else [err[k]] * len(LAMBDAS)
            ax.errorbar(LAMBDAS, v, yerr=e, fmt="none", ecolor=c, elinewidth=1.1,
                        alpha=0.55, capsize=0, zorder=2)

        df = pd.DataFrame({
            "lam": LAMBDAS * len(GROUPS),
            "val": [x for v in vals for x in v],
            "group": [g for g in GROUPS for _ in LAMBDAS],
        })
        sns.lineplot(data=df, x="lam", y="val", hue="group", hue_order=GROUPS,
                     palette=COLORS, ax=ax, legend=False, lw=1.1,
                     errorbar=None, zorder=3)
        sns.scatterplot(data=df, x="lam", y="val", hue="group", hue_order=GROUPS,
                        palette=COLORS, ax=ax, legend=False, marker="+", s=14,
                        linewidth=0.8, zorder=4)

        ax.set_xlim(10 ** -3.2, 10 ** 1.2)
        ax.set_ylim(*ylim)
        ax.set_xticks(XTICKS)
        ax.xaxis.set_minor_locator(matplotlib.ticker.NullLocator())
        ax.set_yticks(yticks)
        ax.set_xlabel("")
        ax.set_ylabel("")
        if j == len(ROWS) - 1:
            ax.set_xticklabels(XTICKLABELS)
        else:
            ax.set_xticklabels([])
        if i == 0:
            ax.set_yticklabels(ytl)
        else:
            ax.set_yticklabels([])
        for s in ["top", "right"]:
            ax.spines[s].set_visible(False)
        for s in ["left", "bottom"]:
            ax.spines[s].set_linewidth(0.9)
            ax.spines[s].set_color("black")
        ax.tick_params(axis="both", length=2.2, width=0.7, color="#333333",
                       labelsize=7, labelcolor=TICK_TXT, pad=1.5)
        ax.grid(False)

        if j == 0:
            fig.text((left + PX_W / 2) / W, 1 - 14 / H, METHODS[i], ha="center",
                     va="center", fontsize=8, color=TXT)
    fig.text(13.5 / W, 1 - (top + PX_H / 2) / H, rlabel, rotation=90, ha="center",
             va="center", fontsize=7.5, color=TXT)

fig.text(362 / W, 1 - 732 / H, "Regularization λ", ha="center", va="center",
         fontsize=11.5, color=TXT)

handles = [Line2D([0], [0], color=c, lw=1.2, marker="+", markersize=8,
                  markeredgewidth=1.3) for c in COLORS]
leg = fig.legend(handles, GROUPS, title="Group", loc="upper left",
                 bbox_to_anchor=(675 / W, 1 - 311 / H), frameon=False, fontsize=8.5,
                 title_fontsize=10.5, handlelength=1.1, handletextpad=0.8,
                 labelspacing=0.36, borderaxespad=0, borderpad=0)
leg._legend_box.align = "left"

fig.savefig("out.png", dpi=100, facecolor="white")
